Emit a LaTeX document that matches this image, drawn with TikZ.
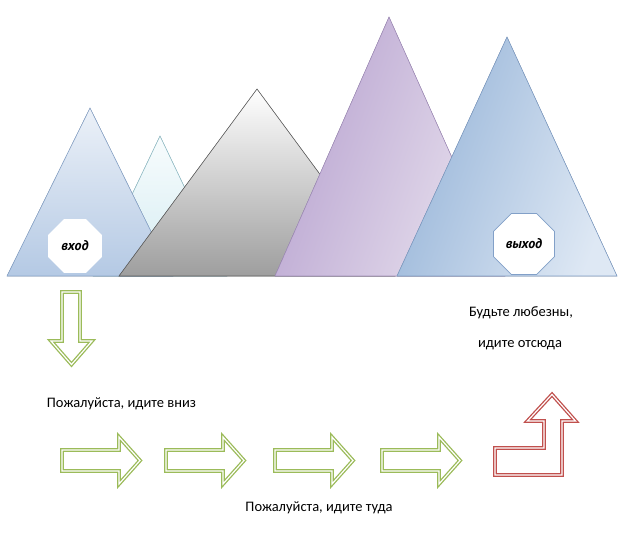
\documentclass[tikz,border=0pt]{standalone}
\usepackage{fontspec}
\setmainfont{Carlito}
\newfontfamily\tagfont{PT Sans}
\usetikzlibrary{shapes.geometric}

\definecolor{arrowgreen}{RGB}{155,187,89}
\definecolor{arrowred}{RGB}{192,80,77}
\definecolor{iceline}{RGB}{150,195,205}
\definecolor{icetop}{RGB}{248,252,253}
\definecolor{icebot}{RGB}{212,236,242}
\definecolor{blueline}{RGB}{140,168,205}
\definecolor{bluetop}{RGB}{236,241,248}
\definecolor{bluebot}{RGB}{180,201,228}
\definecolor{greyline}{RGB}{95,95,95}
\definecolor{greybot}{RGB}{158,158,158}
\definecolor{lilacline}{RGB}{165,145,190}
\definecolor{lilacdark}{RGB}{184,163,208}
\definecolor{lilaclight}{RGB}{232,225,238}
\definecolor{skyline}{RGB}{130,160,200}
\definecolor{skydark}{RGB}{150,180,216}
\definecolor{skylight}{RGB}{222,232,244}

\tikzset{
  peak/.style={line width=0.6pt, line join=miter},
  tag/.style={regular polygon, regular polygon sides=8, fill=white, inner sep=0pt,
    font=\tagfont\bfseries\itshape\fontsize{14}{16}\selectfont},
  caption/.style={inner sep=0pt, font=\fontsize{14.5}{17}\selectfont},
  blockarrow/.style={draw=#1, fill=white, line width=3.8pt, line join=miter,
    postaction={draw=white, line width=1.2pt}}
}

\begin{document}
\begin{tikzpicture}[x=1pt, y=-1pt]
\useasboundingbox (0,0) rectangle (637,533);

% mountains, back to front
\filldraw[peak, draw=iceline, top color=icetop, bottom color=icebot]
  (93,276) -- (160,136) -- (227,276) -- cycle;
\filldraw[peak, draw=blueline, top color=bluetop, bottom color=bluebot]
  (7,276) -- (90,108) -- (173,276) -- cycle;
\filldraw[peak, draw=greyline, top color=white, bottom color=greybot]
  (119,276) -- (257,89) -- (395,276) -- cycle;
\filldraw[peak, draw=lilacline, left color=lilacdark, right color=lilaclight, shading angle=70]
  (275,276) -- (389,17) -- (505,276) -- cycle;
\filldraw[peak, draw=skyline, left color=skydark, right color=skylight, shading angle=70]
  (397,276) -- (507,37) -- (617,276) -- cycle;

\node[tag, minimum size=58pt] (entry) at (75,246) {вход};
\node[tag, minimum size=66pt, draw=skyline, line width=0.6pt] (exit) at (524,244) {выход};

% arrows
\draw[blockarrow=arrowgreen] (62,292) -- (80,292) -- (80,341) -- (92,341)
  -- (71.5,364.5) -- (51,341) -- (62,341) -- cycle;
\foreach \x in {60,164,273,380} {
  \draw[blockarrow=arrowgreen] (\x+2,450) -- ++(57,0) -- ++(0,-13) -- ++(21,23.5)
    -- ++(-21,23.5) -- ++(0,-13) -- ++(-57,0) -- cycle;
}
\draw[blockarrow=arrowred] (495,475) -- (562,475) -- (562,421) -- (575.5,421)
  -- (552,394.5) -- (527.5,421) -- (544,421) -- (544,448) -- (495,448) -- cycle;

\node[caption] (down) at (121.5,404) {Пожалуйста, идите вниз};
\node[caption] (along) at (319,508) {Пожалуйста, идите туда};
\node[caption] (polite) at (521,313) {Будьте любезны,};
\node[caption] (away) at (520,345) {идите отсюда};
\end{tikzpicture}
\end{document}
